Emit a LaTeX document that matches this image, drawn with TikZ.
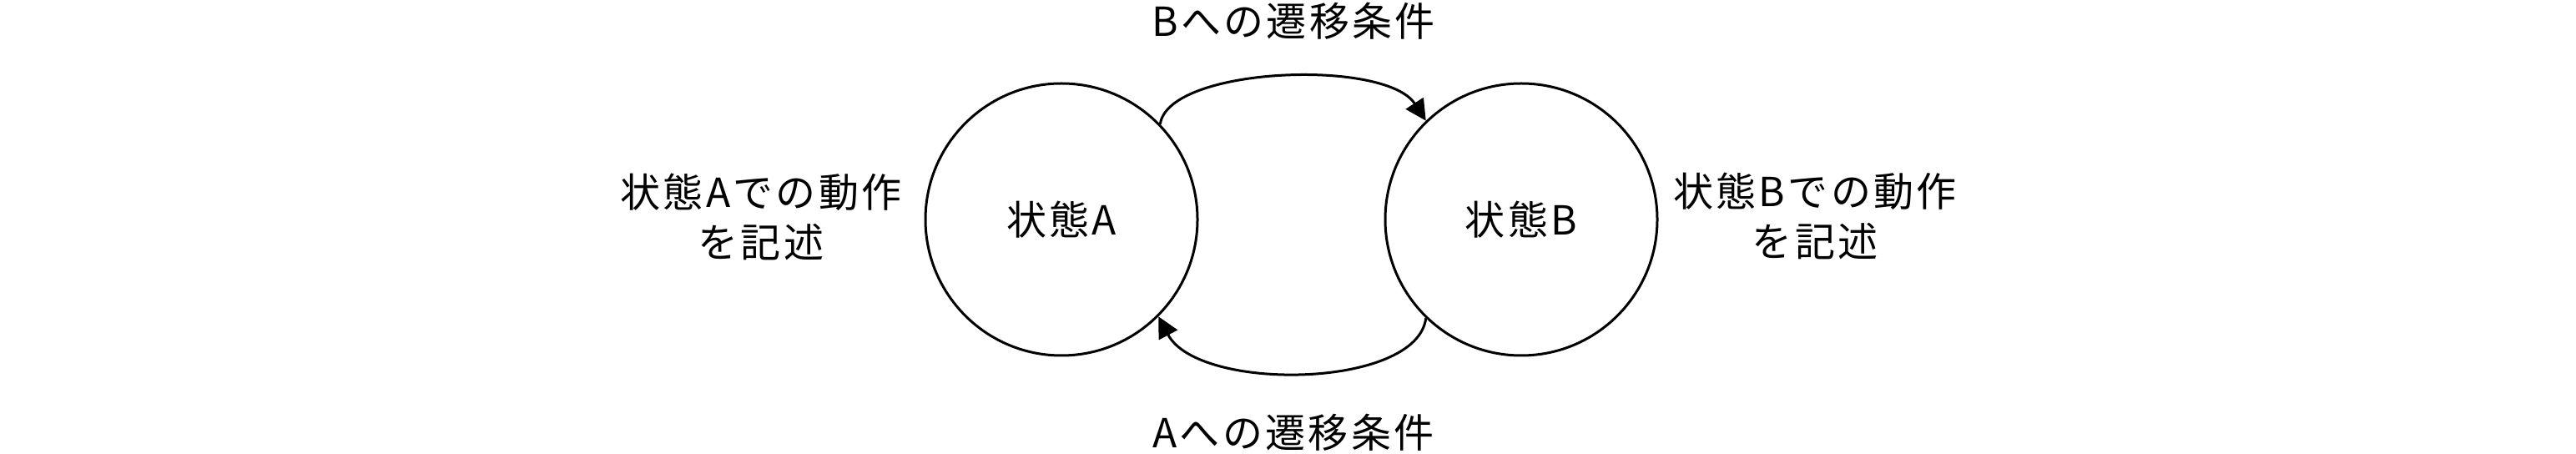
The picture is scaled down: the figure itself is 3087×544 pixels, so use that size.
\documentclass[tikz,border=0pt]{standalone}
\usepackage{fontspec}
\newfontfamily\jp{Noto Sans CJK JP}[LetterSpace=7]
\usetikzlibrary{arrows.meta}
\tikzset{
  x=0.5pt, y=-0.5pt,
  state/.style={circle, draw, line width=1.5pt, minimum size=163pt, inner sep=0pt, font=\jp\fontsize{24pt}{30pt}\selectfont},
  lbl/.style={inner sep=0pt, align=center, font=\jp\fontsize{24pt}{30pt}\selectfont},
  arr/.style={line width=1.5pt, -{Triangle[length=12.5pt,width=12.5pt]}}
}
\begin{document}
\begin{tikzpicture}
\useasboundingbox (0,0) rectangle (3087,544);
\node[state] (A) at (1272,263) {状態A};
\node[state] (B) at (1823,263) {状態B};
\node[lbl] (tA) at (912,260) {状態Aでの動作\\を記述};
\node[lbl] (tB) at (2175,259) {状態Bでの動作\\を記述};
\node[lbl] (cB) at (1550,25.5) {Bへの遷移条件};
\node[lbl] (cA) at (1550,518) {Aへの遷移条件};
\draw[arr] (A.44) .. controls (1400,80) and (1660,70) .. (B.134);
\draw[arr] (B.226) .. controls (1698,466) and (1436,470) .. (A.315);
\end{tikzpicture}
\end{document}
